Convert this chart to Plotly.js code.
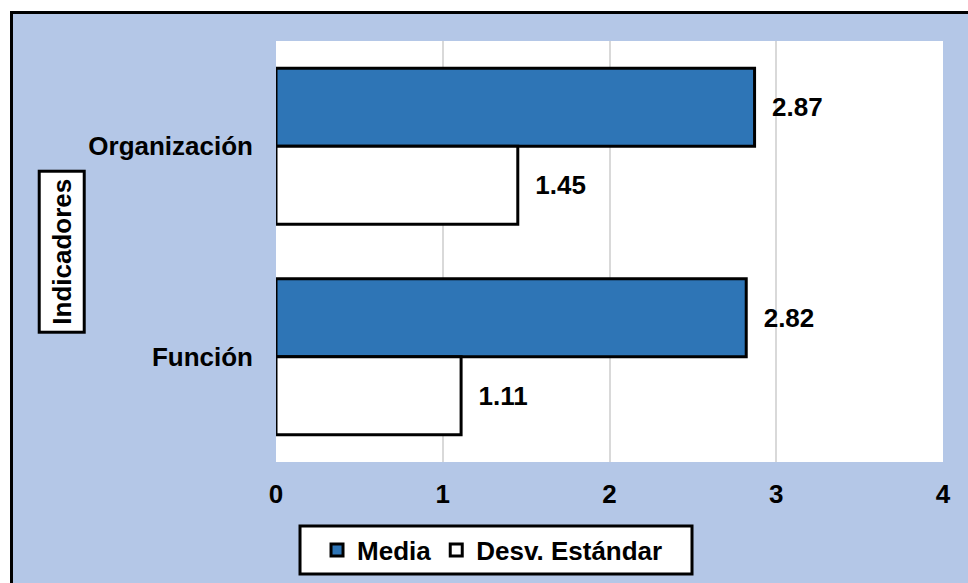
<!DOCTYPE html>
<html>
<head>
<meta charset="utf-8">
<script src="https://cdn.plot.ly/plotly-3.0.1.min.js"></script>
<style>
  html, body { margin: 0; padding: 0; background: #ffffff; overflow: hidden; width: 968px; height: 583px; }
  #frame { position: absolute; left: 10px; top: 11px; border: 3px solid #000; width: 970px; height: 580px; background: #b4c7e7; }
  #chart { width: 970px; height: 580px; }
</style>
</head>
<body>
<div id="frame"><div id="chart"></div></div>
<script>
const categories = ['Organización', 'Función'];
const mediaValues = [2.87, 2.82];
const desvValues = [1.45, 1.11];
const seriesNames = ['Media', 'Desv. Estándar'];
const xTicks = [0, 1, 2, 3, 4];
const axisTitle = 'Indicadores';

const FONT = '"Liberation Sans", Arial, sans-serif';
const labelFont = { family: FONT, size: 26, color: '#000', weight: 'bold' };

const common = {
  type: 'bar',
  orientation: 'h',
  y: categories,
  textposition: 'outside',
  texttemplate: '\u00a0\u00a0%{x:.2f}',
  textfont: labelFont,
  cliponaxis: false,
  constraintext: 'none',
  hoverinfo: 'none'
};

const traces = [
  Object.assign({}, common, {
    name: seriesNames[0],
    x: mediaValues,
    marker: { color: '#2e75b6', line: { color: '#000', width: 3 } }
  }),
  Object.assign({}, common, {
    name: seriesNames[1],
    x: desvValues,
    marker: { color: '#ffffff', line: { color: '#000', width: 3 } }
  })
];

const layout = {
  width: 970,
  height: 580,
  margin: { l: 263, r: 40, t: 27, b: 132 },
  paper_bgcolor: '#b4c7e7',
  plot_bgcolor: '#ffffff',
  barmode: 'group',
  bargap: 0.26,
  bargroupgap: 0,
  font: { family: FONT, size: 26, color: '#000', weight: 'bold' },
  xaxis: {
    range: [0, 4],
    tickvals: xTicks,
    ticktext: xTicks.map(String),
    showgrid: true,
    gridcolor: '#d9d9d9',
    gridwidth: 2,
    zeroline: false,
    showline: false,
    ticks: '',
    ticklabelstandoff: 14,
    tickfont: labelFont,
    fixedrange: true
  },
  yaxis: {
    type: 'category',
    autorange: 'reversed',
    showgrid: false,
    zeroline: false,
    showline: false,
    ticks: '',
    ticklabelstandoff: 22,
    tickfont: labelFont,
    fixedrange: true
  },
  showlegend: true,
  legend: {
    orientation: 'h',
    x: 0.0615,
    xanchor: 'left',
    y: -0.209,
    yanchor: 'middle',
    bgcolor: 'rgba(0,0,0,0)',
    borderwidth: 0,
    font: labelFont,
    traceorder: 'normal'
  },
  shapes: [{
    type: 'rect',
    xref: 'paper', yref: 'paper',
    x0: 0.036, x1: 0.6237,
    y0: -0.152, y1: -0.266,
    fillcolor: '#ffffff',
    line: { color: '#000', width: 3 },
    layer: 'below'
  }],
  annotations: [{
    text: axisTitle,
    xref: 'paper', yref: 'paper',
    x: -0.322, y: 0.5,
    xanchor: 'center', yanchor: 'middle',
    textangle: -90,
    showarrow: false,
    font: labelFont,
    bgcolor: '#ffffff',
    bordercolor: '#000',
    borderwidth: 3,
    borderpad: 6
  }]
};

Plotly.newPlot('chart', traces, layout, { displayModeBar: false, staticPlot: true });
</script>
</body>
</html>
